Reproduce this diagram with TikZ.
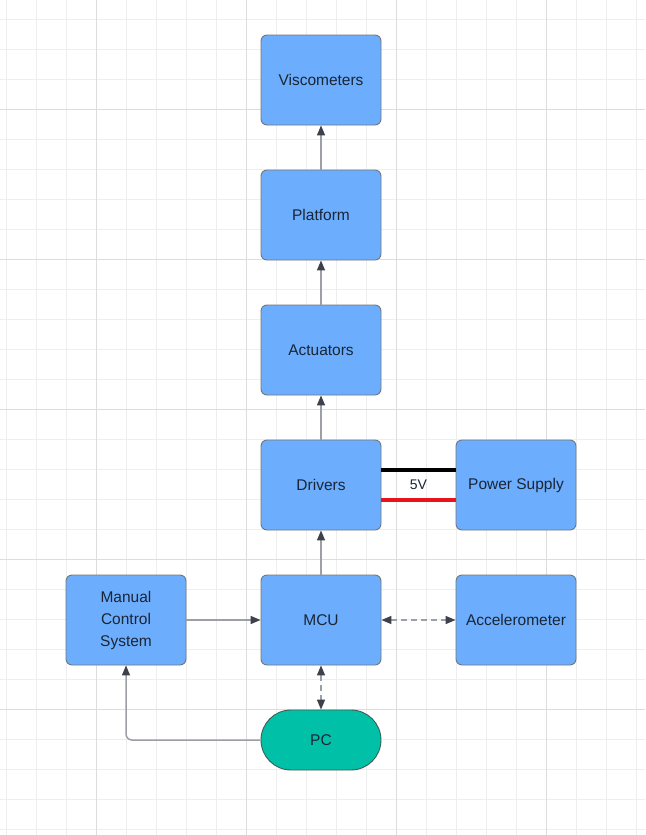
\documentclass[tikz,border=0pt]{standalone}
\usepackage{fontspec}
\setmainfont{Liberation Sans}
\usetikzlibrary{arrows.meta,calc}
\definecolor{boxfill}{HTML}{6CAEFD}
\definecolor{boxdraw}{HTML}{6F7680}
\definecolor{txt}{HTML}{1A2536}
\definecolor{pcfill}{HTML}{00C1A7}
\definecolor{pcdraw}{HTML}{3E5E58}
\definecolor{linec}{HTML}{9CA0A6}
\definecolor{tipc}{HTML}{3C414B}
\definecolor{gridminor}{HTML}{EEEEEE}
\definecolor{gridmajor}{HTML}{DDDDDD}
\definecolor{wirered}{HTML}{E8141B}
\tikzset{
  blk/.style={draw=boxdraw, line width=0.9pt, fill=boxfill, rounded corners=6pt,
    minimum width=120pt, minimum height=90pt, inner sep=0pt, align=center,
    text=txt, font=\fontsize{15.5}{22}\selectfont},
  pcblk/.style={blk, fill=pcfill, draw=pcdraw, rounded corners=30pt, minimum height=60pt},
  conn/.style={draw=linec, line width=1.5pt, -{Triangle[length=10pt,width=8pt,color=tipc]}},
  biconn/.style={conn, dashed, dash pattern=on 6pt off 4pt,
    {Triangle[length=10pt,width=8pt,color=tipc]}-{Triangle[length=10pt,width=8pt,color=tipc]}},
  wire/.style={line width=4pt},
}
\begin{document}
\begin{tikzpicture}[x=1pt,y=-1pt]
\useasboundingbox (0,0) rectangle (645,835);
\fill[white] (0,0) rectangle (645,835);
% grid
\foreach \gx in {6.7,36.7,...,645} \draw[gridminor, line width=1pt] (\gx,0) -- (\gx,835);
\foreach \gy in {19.3,49.3,...,835} \draw[gridminor, line width=1pt] (0,\gy) -- (645,\gy);
\foreach \gx in {96.7,246.7,396.7,546.7} \draw[gridmajor, line width=1pt] (\gx,0) -- (\gx,835);
\foreach \gy in {109.3,259.3,409.3,559.3,709.3} \draw[gridmajor, line width=1pt] (0,\gy) -- (645,\gy);
% nodes
\node[blk] (visc) at (321,80) {Viscometers};
\node[blk] (plat) at (321,215) {Platform};
\node[blk] (act) at (321,350) {Actuators};
\node[blk] (drv) at (321,485) {Drivers};
\node[blk] (pwr) at (516,485) {Power Supply};
\node[blk] (mcu) at (321,620) {MCU};
\node[blk] (man) at (126,620) {Manual\\Control\\System};
\node[blk] (acc) at (516,620) {Accelerometer};
\node[pcblk] (pc) at (321,740) {PC};
% connectors
\draw[conn] (plat) -- (visc);
\draw[conn] (act) -- (plat);
\draw[conn] (drv) -- (act);
\draw[conn] (mcu) -- (drv);
\draw[conn] (man) -- (mcu);
\draw[biconn] (mcu) -- (acc);
\draw[biconn] (mcu) -- (pc);
\draw[conn, rounded corners=6pt] (pc.west) -| (man.south);
% power wires
\draw[wire, black] ([yshift=15pt]drv.east) -- ([yshift=15pt]pwr.west);
\draw[wire, wirered] ([yshift=-14.5pt]drv.east) -- ([yshift=-14.5pt]pwr.west);
\node[text=txt, font=\fontsize{14}{16}\selectfont] (v5) at ($(drv.east)!0.5!(pwr.west)$) {5V};
\end{tikzpicture}
\end{document}
